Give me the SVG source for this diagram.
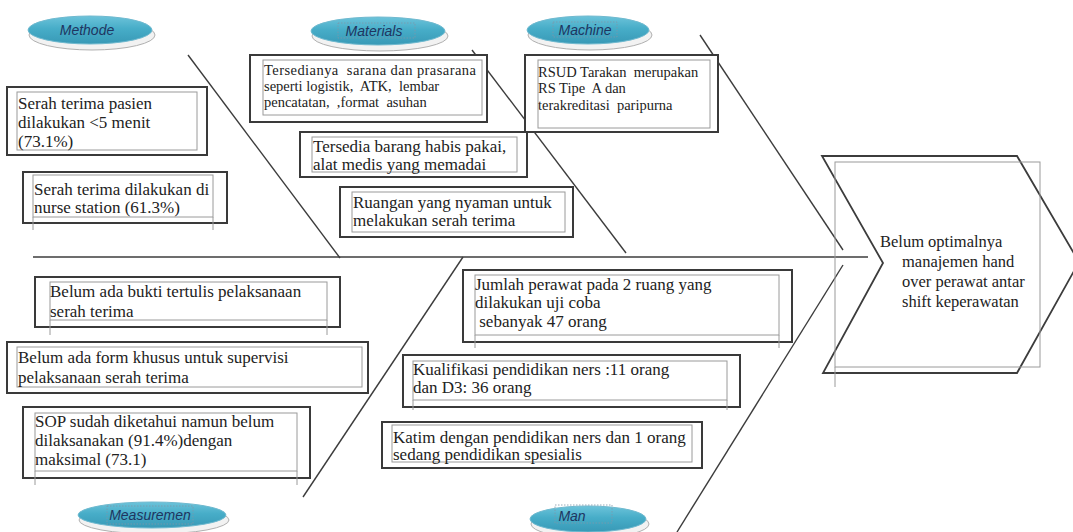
<svg xmlns="http://www.w3.org/2000/svg" width="1073" height="532" viewBox="0 0 1073 532">
<style>
.bg{fill:#ffffff}
.ln{stroke:#3c3c3c;stroke-width:1.4;fill:none}
.ob{fill:#ffffff;stroke:#3a3a3a;stroke-width:2}
.ib{fill:none;stroke:#9a9a9a;stroke-width:1}
.gl{stroke:#9a9a9a;stroke-width:1;fill:none}
.t{font-family:"Liberation Serif","Times New Roman",serif;font-size:17px;fill:#222;white-space:pre}
.ts{font-size:14.5px}
.th{font-family:"Liberation Serif","Times New Roman",serif;font-size:16.5px;fill:#222}
.sh{fill:#f2f2f2;stroke:#b0b0b0;stroke-width:1}
.el{fill:url(#tg);stroke:#6fb9cf;stroke-width:1}
.lt{font-family:"Liberation Sans",Arial,sans-serif;font-style:italic;font-size:14px;fill:#1f3560;text-anchor:middle}
.fr{fill:none;stroke:#7f98aa;stroke-width:0.8;stroke-dasharray:1.5 1.5}
.hd{fill:#ffffff;stroke:#3c3c3c;stroke-width:1.8}
</style>
<defs>
<linearGradient id="tg" x1="0" y1="0" x2="0" y2="1">
<stop offset="0" stop-color="#6cc3da"/>
<stop offset="0.45" stop-color="#47adc8"/>
<stop offset="1" stop-color="#3899b6"/>
</linearGradient>
</defs>
<rect class="bg" x="0" y="0" width="1073" height="532"/>

<g id="connectors">
<line class="ln" x1="33" y1="257" x2="868" y2="257"/>
<line class="ln" x1="188" y1="55" x2="340" y2="258"/>
<line class="ln" x1="472" y1="50" x2="626" y2="253"/>
<line class="ln" x1="700" y1="35" x2="843" y2="250"/>
<line class="ln" x1="463" y1="257" x2="303" y2="497"/>
<line class="ln" x1="843" y1="265" x2="677" y2="532"/>
</g>

<g id="head">
<polygon class="hd" points="822,156 1017,156 1079,262 1017,373 823,373 883,263"/>
<rect class="ib" x="835" y="162" width="205" height="205"/>
<line class="gl" x1="835" y1="367" x2="835" y2="387"/>
<text class="th" x="880" y="247">Belum optimalnya</text>
<text class="th" x="902" y="267">manajemen hand</text>
<text class="th" x="902" y="287">over perawat antar</text>
<text class="th" x="902" y="307">shift keperawatan</text>
</g>

<g id="cat-methode">
<ellipse class="sh" cx="92" cy="35" rx="63" ry="15"/>
<ellipse class="el" cx="90" cy="30" rx="62" ry="14"/>
<text class="lt" x="87" y="35">Methode</text>
</g>
<g id="cat-materials">
<ellipse class="sh" cx="380" cy="36" rx="68" ry="15"/>
<ellipse class="el" cx="378" cy="31" rx="67" ry="14"/>
<rect class="fr" x="338" y="23" width="77" height="15"/>
<text class="lt" x="374" y="36">Materials</text>
</g>
<g id="cat-machine">
<ellipse class="sh" cx="590" cy="35" rx="62" ry="15"/>
<ellipse class="el" cx="588" cy="30" rx="61" ry="14"/>
<rect class="fr" x="553" y="22" width="64" height="15"/>
<text class="lt" x="585" y="35">Machine</text>
</g>
<g id="cat-measuremen">
<ellipse class="sh" cx="154" cy="520" rx="75" ry="14"/>
<ellipse class="el" cx="152" cy="515" rx="74" ry="13"/>
<rect class="fr" x="107" y="506" width="86" height="18"/>
<text class="lt" x="150" y="520">Measuremen</text>
</g>
<g id="cat-man">
<ellipse class="sh" cx="590" cy="524" rx="59" ry="14"/>
<ellipse class="el" cx="588" cy="519" rx="58" ry="13"/>
<rect class="fr" x="555" y="505" width="57" height="18"/>
<text class="lt" x="572" y="521">Man</text>
</g>

<g id="box-methode-1">
<rect class="ob" x="7" y="87" width="200" height="68"/>
<rect class="ib" x="17" y="92" width="180" height="58"/>
<text class="t" x="18" y="109">Serah terima pasien</text>
<text class="t" x="18" y="128">dilakukan &lt;5 menit</text>
<text class="t" x="18" y="147">(73.1%)</text>
</g>
<g id="box-methode-2">
<rect class="ob" x="23" y="172" width="204" height="51"/>
<rect class="ib" x="33" y="175" width="180" height="42"/>
<path class="gl" d="M33 217V230M213 217V230"/>
<text class="t" x="34" y="195">Serah terima dilakukan di</text>
<text class="t" x="34" y="213">nurse station (61.3%)</text>
</g>

<g id="box-materials-1">
<rect class="ob" x="250" y="55" width="237" height="67"/>
<rect class="ib" x="263" y="60" width="219" height="55"/>
<text class="t ts" x="264" y="75" textLength="212" lengthAdjust="spacing">Tersedianya  sarana dan prasarana</text>
<text class="t ts" x="264" y="91">seperti logistik,  ATK,  lembar</text>
<text class="t ts" x="264" y="107">pencatatan,  ,format  asuhan</text>
</g>
<g id="box-materials-2">
<rect class="ob" x="300" y="132" width="227" height="45"/>
<rect class="ib" x="312" y="137" width="205" height="35"/>
<text class="t" x="313" y="152">Tersedia barang habis pakai,</text>
<text class="t" x="313" y="170">alat medis yang memadai</text>
</g>
<g id="box-materials-3">
<rect class="ob" x="340" y="187" width="233" height="50"/>
<rect class="ib" x="352" y="192" width="213" height="40"/>
<text class="t" x="353" y="208">Ruangan yang nyaman untuk</text>
<text class="t" x="353" y="226">melakukan serah terima</text>
</g>

<g id="box-machine-1">
<rect class="ob" x="525" y="55" width="193" height="77"/>
<rect class="ib" x="538" y="60" width="172" height="68"/>
<text class="t ts" x="538" y="77">RSUD Tarakan  merupakan</text>
<text class="t ts" x="538" y="93">RS Tipe  A dan</text>
<text class="t ts" x="538" y="110">terakreditasi  paripurna</text>
</g>

<g id="box-measurement-1">
<rect class="ob" x="35" y="277" width="305" height="50"/>
<rect class="ib" x="50" y="282" width="277" height="38"/>
<path class="gl" d="M50 320V335M327 320V335"/>
<text class="t" x="50" y="297">Belum ada bukti tertulis pelaksanaan</text>
<text class="t" x="50" y="317">serah terima</text>
</g>
<g id="box-measurement-2">
<rect class="ob" x="7" y="342" width="361" height="51"/>
<rect class="ib" x="17" y="347" width="345" height="40"/>
<text class="t" x="18" y="363">Belum ada form khusus untuk supervisi</text>
<text class="t" x="18" y="383">pelaksanaan serah terima</text>
</g>
<g id="box-measurement-3">
<rect class="ob" x="23" y="407" width="287" height="71"/>
<rect class="ib" x="35" y="413" width="262" height="58"/>
<path class="gl" d="M35 471V485M297 471V485"/>
<text class="t" x="35" y="427">SOP sudah diketahui namun belum</text>
<text class="t" x="35" y="446">dilaksanakan (91.4%)dengan</text>
<text class="t" x="35" y="465">maksimal (73.1)</text>
</g>

<g id="box-man-1">
<rect class="ob" x="463" y="270" width="329" height="72"/>
<rect class="ib" x="475" y="275" width="304" height="60"/>
<path class="gl" d="M475 335V348M779 335V348"/>
<text class="t" x="475" y="290">Jumlah perawat pada 2 ruang yang</text>
<text class="t" x="475" y="308">dilakukan uji coba</text>
<text class="t" x="475" y="327"> sebanyak 47 orang</text>
</g>
<g id="box-man-2">
<rect class="ob" x="403" y="355" width="337" height="52"/>
<rect class="ib" x="413" y="361" width="314" height="39"/>
<path class="gl" d="M413 400V410M727 400V410"/>
<text class="t" x="413" y="375">Kualifikasi pendidikan ners :11 orang</text>
<text class="t" x="413" y="393">dan D3: 36 orang</text>
</g>
<g id="box-man-3">
<rect class="ob" x="382" y="422" width="320" height="46"/>
<rect class="ib" x="392" y="425" width="300" height="37"/>
<text class="t" x="393" y="443">Katim dengan pendidikan ners dan 1 orang</text>
<text class="t" x="393" y="460">sedang pendidikan spesialis</text>
</g>
</svg>
